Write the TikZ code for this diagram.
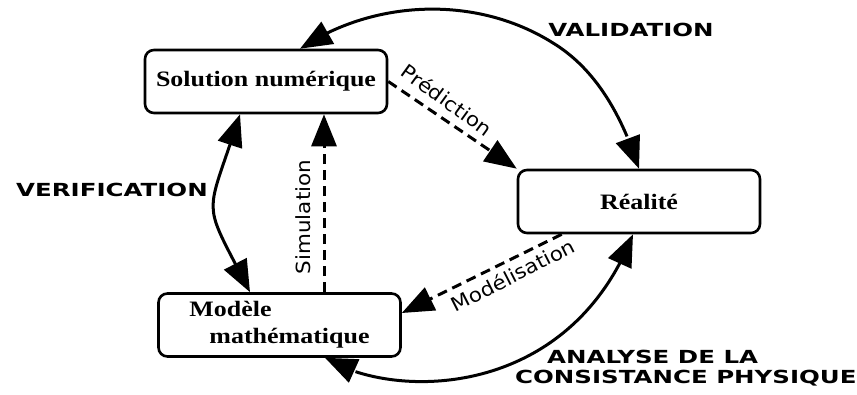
\documentclass[tikz,border=0pt]{standalone}
\usepackage{fontspec}
\setmainfont{Liberation Serif}
\newfontfamily\boxfont[FakeStretch=1.18]{Liberation Serif}
\newfontfamily\capfont[FakeStretch=1.36]{DejaVu Sans}
\newfontfamily\dashfont[FakeStretch=1.1]{DejaVu Sans}
\usetikzlibrary{arrows.meta,bending}
\begin{document}
\begin{tikzpicture}[x=1pt,y=1pt,
  box/.style={draw, line width=2.6pt, rounded corners=9pt, minimum width=242pt, minimum height=63pt, inner sep=0pt, font=\boxfont\bfseries\fontsize{22}{27}\selectfont},
  bigtip/.tip={Triangle[length=32pt,width=25pt]},
  cyc/.style={line width=3pt, bigtip-bigtip},
  dsh/.style={line width=3pt, dash pattern=on 10pt off 6pt, -bigtip},
  caplbl/.style={font=\capfont\bfseries\fontsize{18}{20}\selectfont, inner sep=0pt},
  dlab/.style={font=\dashfont\fontsize{19.5}{22}\selectfont, inner sep=0pt}]
\fill[white] (0,0) rectangle (857,394);
\useasboundingbox (0,0) rectangle (857,394);

\node[box] (sol) at (266,312.5) {Solution numérique};
\node[box] (rea) at (639,192.5) {Réalité};
\node[box, align=left] (mod) at (279.5,69) {Modèle\\\hspace*{20pt}mathématique};

\draw[cyc] ([xshift=34pt]sol.north) .. controls (374,395) and (477,399) .. (553,351) .. controls (604,320) and (627,262) .. (rea.north);
\draw[cyc] ([xshift=-26pt]sol.south) .. controls (205,170) and (200,200) .. ([xshift=-29.5pt]mod.north);
\draw[cyc] ([xshift=45.5pt]mod.south) .. controls (392,-6) and (568,-7) .. ([xshift=-6pt]rea.south);

\draw[dsh] (sol.east) -- (rea.north west);
\draw[dsh] ([xshift=44.5pt]mod.north) -- ([xshift=58pt]sol.south);
\draw[dsh] ([xshift=45pt]rea.south west) -- ([yshift=12pt]mod.east);

\node[caplbl] (val) at (631,364) {VALIDATION};
\node[caplbl] (ver) at (112,204) {VERIFICATION};
\node[caplbl, align=left, anchor=west] (ana) at (515,25.5) {\hspace*{32pt}ANALYSE DE LA\\CONSISTANCE PHYSIQUE};
\node[dlab, rotate=90] (simu) at (303,177) {Simulation};
\node[dlab, rotate=-36] (pred) at (447,294) {Prédiction};
\node[dlab, rotate=27] (modl) at (513,119) {Modélisation};
\end{tikzpicture}
\end{document}
